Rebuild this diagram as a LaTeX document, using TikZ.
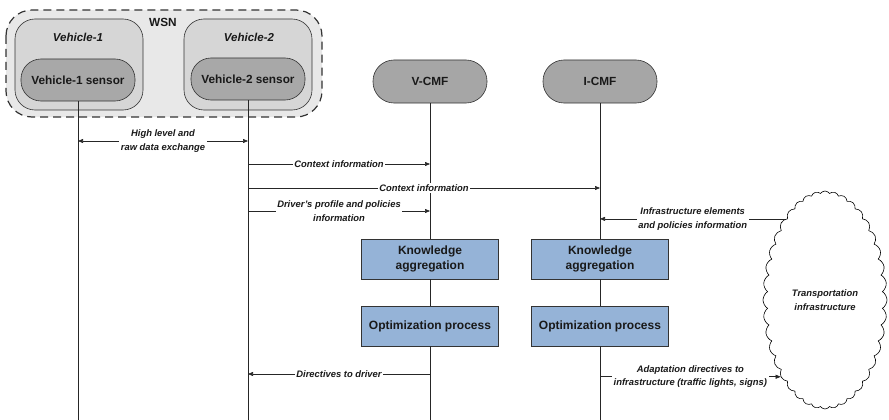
\documentclass[tikz,border=0pt]{standalone}
\usepackage{fontspec}
\setmainfont{Liberation Sans}
\usetikzlibrary{arrows.meta,shapes.symbols}

\definecolor{wsnfill}{HTML}{E8E8E8}
\definecolor{vehfill}{HTML}{D6D6D6}
\definecolor{sensfill}{HTML}{A8A8A8}
\definecolor{cmffill}{HTML}{A6A6A6}
\definecolor{procfill}{HTML}{95B3D7}
\definecolor{edge}{HTML}{333333}

\tikzset{
  boxtext/.style={font=\fontsize{11.8}{13.5}\selectfont\bfseries, text=black!90},
  lbltext/.style={font=\fontsize{9.4}{13.5}\selectfont\bfseries\itshape, text=black!90},
  lbl/.style={lbltext, fill=white, inner sep=1.5pt, align=center},
  wsnbox/.style={draw=edge, line width=1.2pt, dash pattern=on 8pt off 5pt,
    fill=wsnfill, rounded corners=26pt},
  vehbox/.style={draw=edge, line width=0.6pt, fill=vehfill, rounded corners=20pt,
    minimum width=128pt, minimum height=91pt, inner sep=0pt},
  sensbox/.style={draw=edge, line width=0.6pt, fill=sensfill, rounded corners=20pt,
    minimum width=114pt, minimum height=42pt, inner sep=0pt, boxtext},
  pill/.style={draw=edge, line width=0.6pt, fill=cmffill, rounded corners=21pt,
    minimum width=114pt, minimum height=43pt, inner sep=0pt, boxtext},
  procbox/.style={draw=edge, line width=0.8pt, fill=procfill,
    minimum width=137pt, minimum height=40pt, inner sep=0pt, align=center, boxtext,
    font=\fontsize{12}{14.5}\selectfont\bfseries},
  lifeline/.style={draw=black!85, line width=0.6pt},
  arr/.style={draw=black!85, line width=0.6pt, -{Triangle[length=5pt,width=4pt]}},
  biarr/.style={draw=black!85, line width=0.6pt,
    {Triangle[length=5pt,width=4pt]}-{Triangle[length=5pt,width=4pt]}},
}

\begin{document}
\begin{tikzpicture}[x=1pt,y=-1pt]
  \useasboundingbox (0,0) rectangle (889,420);

  % wireless sensor network with the two vehicles
  \draw[wsnbox] (6,10) rectangle (322,117);
  \node[boxtext] (wsn) at (163,22) {WSN};
  \node[vehbox] (veh1) at (79,64.5) {};
  \node[vehbox] (veh2) at (248,64.5) {};
  \node[boxtext, font=\fontsize{11.5}{13}\selectfont\bfseries\itshape] (veh1t) at (78,37) {Vehicle-1};
  \node[boxtext, font=\fontsize{11.5}{13}\selectfont\bfseries\itshape] (veh2t) at (249,37) {Vehicle-2};
  \node[sensbox] (s1) at (78,80) {Vehicle-1 sensor};
  \node[sensbox] (s2) at (248,79) {Vehicle-2 sensor};

  % context management functions
  \node[pill] (vcmf) at (430,81.5) {V-CMF};
  \node[pill] (icmf) at (600,81.5) {I-CMF};

  % processing steps
  \node[procbox] (k1) at (430,259) {Knowledge\\aggregation};
  \node[procbox] (k2) at (600,259) {Knowledge\\aggregation};
  \node[procbox] (o1) at (430,326) {Optimization process};
  \node[procbox] (o2) at (600,326) {Optimization process};

  % external infrastructure
  \node[cloud, draw=black, line width=0.6pt, cloud puffs=40, cloud puff arc=115,
        aspect=0.57, minimum width=124pt, minimum height=218pt, inner sep=0pt,
        align=center, lbltext] (cloud) at (825,300) {Transportation\\infrastructure};

  % lifeline ends
  \coordinate (b1) at (78,420);
  \coordinate (b2) at (248,420);
  \coordinate (b3) at (430,420);
  \coordinate (b4) at (600,420);

  % lifelines
  \draw[lifeline] (s1.south) -- (b1);
  \draw[lifeline] (s2.south) -- (b2);
  \draw[lifeline] (vcmf.south) -- (k1.north);
  \draw[lifeline] (k1.south) -- (o1.north);
  \draw[lifeline] (o1.south) -- (b3);
  \draw[lifeline] (icmf.south) -- (k2.north);
  \draw[lifeline] (k2.south) -- (o2.north);
  \draw[lifeline] (o2.south) -- (b4);

  % messages
  \draw[biarr] (s1.south |- 0,141) -- node[lbl] (m1) {High level and\\raw data exchange} (s2.south |- 0,141);
  \draw[arr] (s2.south |- 0,164) -- node[lbl] (m2) {Context information} (vcmf.south |- 0,164);
  \draw[arr] (s2.south |- 0,188) -- node[lbl] (m3) {Context information} (icmf.south |- 0,188);
  \draw[arr] (s2.south |- 0,211) -- node[lbl] (m4) {Driver’s profile and policies\\information} (vcmf.south |- 0,211);
  \draw[arr] (cloud.116) -- node[lbl] (m5) {Infrastructure elements\\and policies information} (cloud.116 -| icmf.south);
  \draw[arr] (o1.south |- 0,374) -- node[lbl] (m6) {Directives to driver} (s2.south |- 0,374);
  \draw[arr] (o2.south |- cloud.240) -- node[lbl] (m7) {Adaptation directives to\\infrastructure (traffic lights, signs)} (cloud.240);
\end{tikzpicture}
\end{document}
